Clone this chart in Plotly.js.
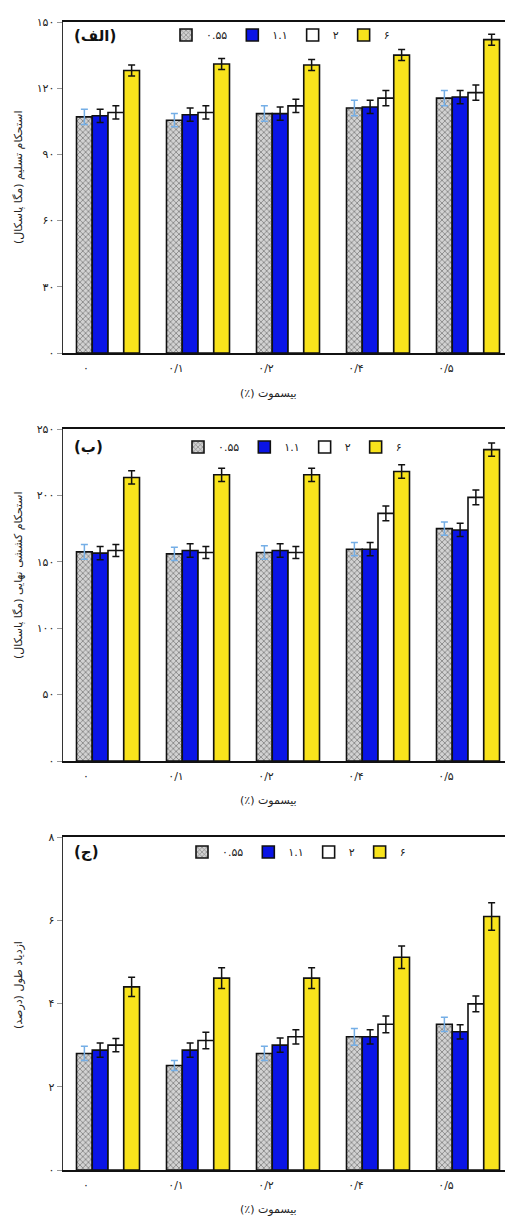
<!DOCTYPE html>
<html>
<head>
<meta charset="utf-8">
<script src="https://cdn.plot.ly/plotly-3.0.1.min.js"></script>
<style>
html, body { margin:0; padding:0; overflow:hidden; background:#fff; }
#chart { width:520px; height:1216px; }
</style>
</head>
<body>
<div id="chart"></div>
<script>
// Categories (bismuth %) and series names
const categories = ['۰', '۰/۱', '۰/۲', '۰/۴', '۰/۵'];
const seriesNames = ['۰.۵۵', '۱.۱', '۲', '۶'];

// Panel (الف): yield strength (MPa)
const yieldGrey   = [107, 105.5, 108.5, 111, 115.5];
const yieldBlue   = [107.5, 108, 108.5, 111.5, 116];
const yieldWhite  = [109, 109, 112, 115.5, 118];
const yieldYellow = [128, 131, 130.5, 135, 142];
const yieldGreyErr   = [3.5, 3, 3.5, 3.5, 3.5];
const yieldBlueErr   = [3, 3, 3, 3, 3];
const yieldWhiteErr  = [3, 3, 3, 3.5, 3.5];
const yieldYellowErr = [2.5, 2.5, 2.5, 2.5, 2.5];

// Panel (ب): ultimate tensile strength (MPa)
const utsGrey   = [157.5, 156, 157, 159.5, 175];
const utsBlue   = [156.5, 158.5, 158.5, 159.5, 174];
const utsWhite  = [158.5, 157, 157, 186.5, 198.5];
const utsYellow = [213.5, 215.5, 215.5, 218, 234.5];
const utsGreyErr   = [5.5, 5, 5, 5, 5];
const utsBlueErr   = [5, 5, 5, 5, 5];
const utsWhiteErr  = [4.5, 4.5, 4.5, 5.5, 5.5];
const utsYellowErr = [5, 5, 5, 5, 5];

// Panel (ج): elongation (%)
const elGrey   = [2.8, 2.51, 2.8, 3.2, 3.5];
const elBlue   = [2.88, 2.88, 3.0, 3.2, 3.32];
const elWhite  = [3.0, 3.11, 3.2, 3.5, 3.99];
const elYellow = [4.4, 4.61, 4.61, 5.11, 6.09];
const elGreyErr   = [0.17, 0.12, 0.17, 0.2, 0.17];
const elBlueErr   = [0.17, 0.17, 0.17, 0.17, 0.17];
const elWhiteErr  = [0.16, 0.2, 0.17, 0.2, 0.19];
const elYellowErr = [0.23, 0.25, 0.25, 0.27, 0.33];

// Tick labels
const yTicks1 = [0, 30, 60, 90, 120, 150];
const yTickText1 = ['۰', '۳۰', '۶۰', '۹۰', '۱۲۰', '۱۵۰'];
const yTicks2 = [0, 50, 100, 150, 200, 250];
const yTickText2 = ['۰', '۵۰', '۱۰۰', '۱۵۰', '۲۰۰', '۲۵۰'];
const yTicks3 = [0, 2, 4, 6, 8];
const yTickText3 = ['۰', '۲', '۴', '۶', '۸'];

const panelLabels = ['(الف)', '(ب)', '(ج)'];
const yTitles = ['استحکام تسلیم (مگا پاسکال)', 'استحکام کششی نهایی (مگا پاسکال)', 'ازدیاد طول (درصد)'];
const xTitle = 'بیسموت (٪)';

const RLM = '\u200F';
const rtl = s => RLM + s + RLM;

const styles = [
  {color:'#c4c4c4', pattern:{shape:'x', bgcolor:'#d2d2d2', fgcolor:'#7d7d7d', size:4, solidity:0.35}, err:'#74aee6'},
  {color:'#0a14e6', err:'#111'},
  {color:'#ffffff', err:'#111'},
  {color:'#f8e31c', err:'#111'}
];

const panels = [
  {vals:[yieldGrey, yieldBlue, yieldWhite, yieldYellow], errs:[yieldGreyErr, yieldBlueErr, yieldWhiteErr, yieldYellowErr]},
  {vals:[utsGrey, utsBlue, utsWhite, utsYellow], errs:[utsGreyErr, utsBlueErr, utsWhiteErr, utsYellowErr]},
  {vals:[elGrey, elBlue, elWhite, elYellow], errs:[elGreyErr, elBlueErr, elWhiteErr, elYellowErr]}
];

const traces = [];
panels.forEach((p, pi) => {
  const sfx = pi === 0 ? '' : String(pi + 1);
  p.vals.forEach((v, si) => {
    const st = styles[si];
    const marker = {color: st.color, line: {color:'#111', width:1.6}};
    if (st.pattern) marker.pattern = st.pattern;
    traces.push({
      type:'bar', x: categories, y: v, name: seriesNames[si],
      xaxis: 'x' + sfx, yaxis: 'y' + sfx,
      legend: 'legend' + sfx,
      marker: marker,
      error_y: {type:'data', array: p.errs[si], color: st.err, thickness:1.5, width:3.5},
      hoverinfo:'skip'
    });
  });
});

const H = 1216;
const W = 520;
const ML = 63, MR = 7;
const PW = W - ML - MR;
const px2x = px => (px - ML) / PW;
const py2y = py => 1 - py / H;
// pixel geometry of each panel: [top, bottom]
const pix = [[22, 353], [429, 761], [837, 1170]];
const dom = pix.map(([t, b]) => [py2y(b), py2y(t)]);

function xax(anchor) {
  return {
    anchor: anchor, domain:[0, 1], type:'category', range:[-0.5, 4.5],
    showline:true, linecolor:'#111', linewidth:1.6, mirror:true,
    ticks:'', showgrid:false, zeroline:false,
    tickfont:{size:11, color:'#222'}, ticklabelshift:-22, ticklabelstandoff:4
  };
}
function yax(anchor, d, range, tv, tt) {
  return {
    anchor: anchor, domain: d, range: range, tickvals: tv, ticktext: tt,
    showline:true, linecolor:'#333', linewidth:1.4, mirror:true,
    ticks:'outside', ticklen:5, tickcolor:'#999', tickwidth:1,
    showgrid:false, zeroline:false, tickfont:{size:11, color:'#222'}
  };
}

const legendY = [35, 447, 852];
const legendX = [166, 178, 182];
function leg(i) {
  return {
    orientation:'h', x: px2x(legendX[i]), xanchor:'left', y: py2y(legendY[i]), yanchor:'middle',
    bgcolor:'rgba(0,0,0,0)', font:{size:11, color:'#222'}, itemclick:false, itemdoubleclick:false
  };
}

const annotations = [];
const labelY = [36, 447, 852];
panelLabels.forEach((t, i) => {
  annotations.push({text: t, xref:'paper', yref:'paper', x: px2x(72), y: py2y(labelY[i]),
    xanchor:'left', yanchor:'middle', showarrow:false, font:{size:15, color:'#111', family:'DejaVu Sans', weight:'bold'}});
});
const yTitleY = [177, 575, 985];
yTitles.forEach((t, i) => {
  annotations.push({text: rtl(t), xref:'paper', yref:'paper', x: px2x(18), y: py2y(yTitleY[i]),
    xanchor:'center', yanchor:'middle', textangle:-90, showarrow:false, font:{size:11, color:'#222'}});
});
const xTitleY = [393, 800, 1209];
xTitleY.forEach(yy => {
  annotations.push({text: rtl(xTitle), xref:'paper', yref:'paper', x: px2x(268), y: py2y(yy),
    xanchor:'center', yanchor:'middle', showarrow:false, font:{size:11, color:'#222'}});
});

const layout = {
  width: W, height: H,
  margin:{l:ML, r:MR, t:0, b:0},
  paper_bgcolor:'#fff', plot_bgcolor:'#fff',
  font:{family:'DejaVu Sans', size:11, color:'#222'},
  barmode:'group', bargap:0.3, bargroupgap:0,
  showlegend:true,
  xaxis: xax('y'), xaxis2: xax('y2'), xaxis3: xax('y3'),
  yaxis: yax('x', dom[0], [0, 150], yTicks1, yTickText1),
  yaxis2: yax('x2', dom[1], [0, 250], yTicks2, yTickText2),
  yaxis3: yax('x3', dom[2], [0, 8], yTicks3, yTickText3),
  legend: leg(0), legend2: leg(1), legend3: leg(2),
  annotations: annotations
};

Plotly.newPlot('chart', traces, layout, {displayModeBar:false, staticPlot:true});
</script>
</body>
</html>
